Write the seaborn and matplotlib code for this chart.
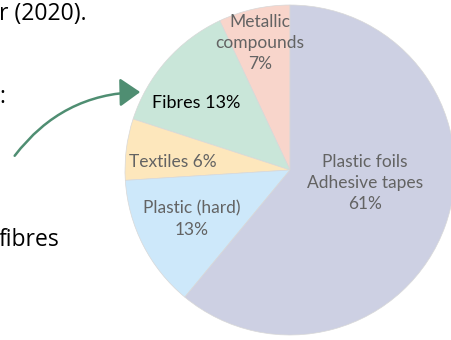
import matplotlib
matplotlib.use("Agg")
import matplotlib.pyplot as plt
import seaborn as sns
from matplotlib.patches import FancyArrowPatch

sns.set_theme(style="white")
plt.rcParams['font.family'] = ['Lato', 'DejaVu Sans']

# ---- data ----
categories = ["Metallic\ncompounds", "Fibres", "Textiles", "Plastic (hard)", "Plastic foils\nAdhesive tapes"]
shares = [7, 13, 6, 13, 61]
label_texts = ["Metallic\ncompounds\n7%", "Fibres 13%", "Textiles 6%", "Plastic (hard)\n13%",
               "Plastic foils\nAdhesive tapes\n61%"]
colors = ["#F8D5CB", "#C9E6D9", "#FDE7BC", "#CDE8FA", "#CDD0E3"]

# layout (pixel coords, y up)
W, H = 452, 340
center = (290, 170)
radius = 165
label_pos = [(260, 297), (196, 237), (173, 178), (192, 121), (365, 157)]

fig = plt.figure(figsize=(W / 100, H / 100), dpi=100)
ax = fig.add_axes([0, 0, 1, 1])
wedges, _ = ax.pie(shares, colors=colors, startangle=90, counterclock=True,
                   center=center, radius=radius,
                   wedgeprops=dict(edgecolor="#d8d8d8", linewidth=0.5))
ax.set_xlim(0, W)
ax.set_ylim(0, H)
ax.set_aspect('equal')
ax.axis('off')

for i, (txt, (x, y)) in enumerate(zip(label_texts, label_pos)):
    if i == 1:
        ax.text(x, y, txt, ha='center', va='center', fontsize=13, color='black',
                linespacing=1.4)
    else:
        ax.text(x, y, txt, ha='center', va='center', fontsize=12.5, color='#636363',
                linespacing=1.4)

# cropped surrounding body text
body_font = ['Open Sans', 'DejaVu Sans']
ax.text(-1, H - 20, "r (2020).", ha='left', va='baseline', fontsize=16.5, color='black', family=body_font)
ax.text(-1, H - 103, ":", ha='left', va='baseline', fontsize=16.5, color='black', family=body_font)
ax.text(-1, H - 246, "fibres", ha='left', va='baseline', fontsize=16.5, color='black', family=body_font)

arrow = FancyArrowPatch((13, H - 158), (143, H - 92),
                        connectionstyle="arc3,rad=-0.25",
                        arrowstyle="-|>,head_length=5,head_width=3.5",
                        color="#4F8E72", linewidth=1.8, mutation_scale=2.5)
ax.add_patch(arrow)

fig.savefig("out.png", dpi=100)
